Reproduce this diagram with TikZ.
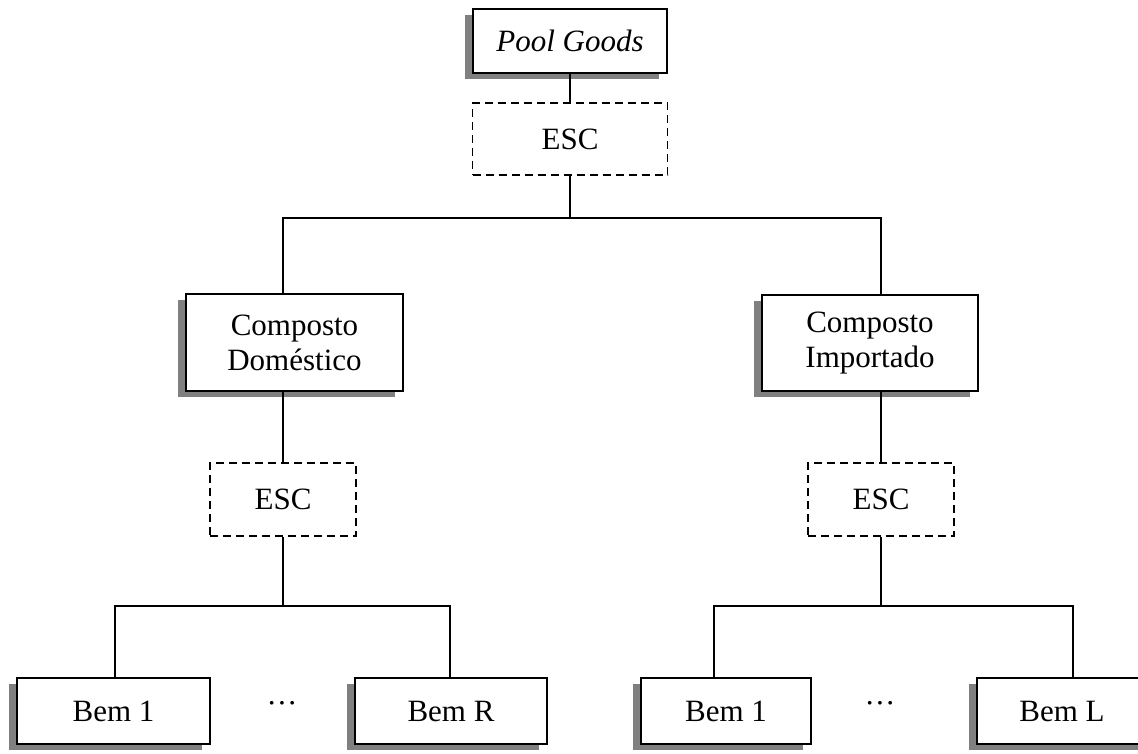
\documentclass[tikz,border=0pt]{standalone}
\usepackage{fontspec}
\setmainfont{Liberation Serif}
\usetikzlibrary{shadows}
\begin{document}
\begin{tikzpicture}[x=1pt,y=-1pt,line width=1.6pt,
  lbl/.style={font=\fontsize{31}{35}\selectfont,align=center,inner sep=0pt},
  box/.style={lbl,draw,fill=white,
    drop shadow={shadow xshift=-8pt,shadow yshift=-6pt,fill=black!50,opacity=1}},
  escbox/.style={lbl,draw,dash pattern=on 8pt off 5pt,
    minimum width=146pt,minimum height=73pt},
  link/.style={draw,line width=1.6pt}]
\useasboundingbox (0,0) rectangle (1138,754);
% top
\node[box,minimum width=194pt,minimum height=64pt] (pool) at (570,41) {\textit{Pool Goods}};
\node[escbox,minimum width=195pt,minimum height=72pt] (esc0) at (570,139) {ESC};
% composites
\node[box,minimum width=217pt,minimum height=97pt] (cd) at (294.5,342.5) {Composto\\Doméstico};
\node[box,minimum width=216pt,minimum height=96pt] (ci) at (870,343) {Composto\\Importado};
\node[escbox] (escL) at (283,499.5) {ESC};
\node[escbox] (escR) at (881,499.5) {ESC};
% goods
\node[box,minimum width=193pt,minimum height=66pt] (b1) at (113.5,711) {Bem 1};
\node[box,minimum width=192pt,minimum height=66pt] (bR) at (451,711) {Bem R};
\node[box,minimum width=170pt,minimum height=66pt] (b2) at (726,711) {Bem 1};
\node[box,minimum width=170pt,minimum height=66pt] (bL) at (1062,711) {Bem L};
\node[lbl] (dL) at (282,707) {···};
\node[lbl] (dR) at (880,707) {···};
% bus coordinates
\coordinate (bus0) at (570,218);
\coordinate (busL) at (283,606);
\coordinate (busR) at (881,606);
% connectors
\draw[link] (pool.south) -- (esc0.north);
\draw[link] (esc0.south) -- (bus0);
\draw[link] (cd.north -| escL.north) |- (bus0) -| (ci.north -| escR.north);
\draw[link] (cd.south -| escL.north) -- (escL.north);
\draw[link] (ci.south -| escR.north) -- (escR.north);
\draw[link] (escL.south) -- (busL);
\draw[link] (escR.south) -- (busR);
\draw[link] ([xshift=1.5pt]b1.north) |- (busL) -| ([xshift=-1pt]bR.north);
\draw[link] ([xshift=-12pt]b2.north) |- (busR) -| ([xshift=11pt]bL.north);
\end{tikzpicture}
\end{document}
